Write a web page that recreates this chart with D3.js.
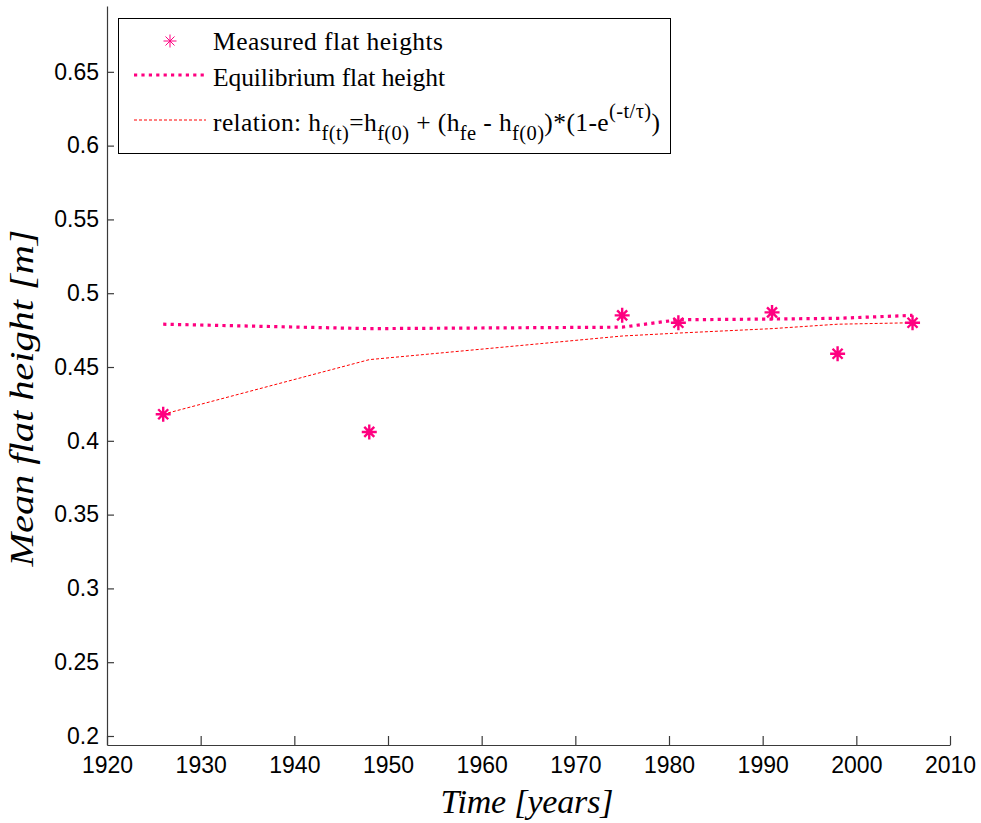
<!DOCTYPE html>
<html>
<head>
<meta charset="utf-8">
<script src="https://cdn.jsdelivr.net/npm/d3@7"></script>
<style>
  html, body { margin: 0; padding: 0; background: #fff; }
  svg { display: block; }
</style>
</head>
<body>
<svg id="chart" width="981" height="823"></svg>
<script>
// ---- data ----
const years = [1926, 1948, 1975, 1981, 1991, 1998, 2006];
const measured = [0.418, 0.406, 0.485, 0.480, 0.487, 0.459, 0.480];
const equilibrium = [0.479, 0.476, 0.477, 0.482, 0.4825, 0.483, 0.485];
const relation = [0.418, 0.455, 0.471, 0.473, 0.476, 0.479, 0.480];
const xTicks = [1920, 1930, 1940, 1950, 1960, 1970, 1980, 1990, 2000, 2010];
const yTicks = [0.2, 0.25, 0.3, 0.35, 0.4, 0.45, 0.5, 0.55, 0.6, 0.65];
const legendLabels = ["Measured flat heights", "Equilibrium flat height"];

const pink = "#ff0080";
const red = "#ff0000";
const serif = "'Liberation Serif','Times New Roman',Times,serif";
const sans = "'Liberation Sans',Arial,Helvetica,sans-serif";

const svg = d3.select("#chart");
const x = d3.scaleLinear().domain([1920, 2010]).range([107, 950]);
const y = d3.scaleLinear().domain([0.1939, 0.6946]).range([745, 6]);

// axes
const gx = svg.append("g").attr("transform", "translate(0,745)")
  .call(d3.axisBottom(x).tickValues(xTicks).tickFormat(d3.format("d"))
    .tickSizeInner(-9).tickSizeOuter(0).tickPadding(11.5));
const gy = svg.append("g").attr("transform", "translate(107,0)")
  .call(d3.axisLeft(y).tickValues(yTicks).tickFormat(d => String(+d.toFixed(2)))
    .tickSizeInner(-7).tickSizeOuter(0).tickPadding(8));
[gx, gy].forEach(g => {
  g.select(".domain").attr("stroke", "#3a3a3a").attr("stroke-width", 1.2);
  g.selectAll(".tick line").attr("stroke", "#3a3a3a").attr("stroke-width", 1.2);
  g.selectAll(".tick text").attr("font-family", sans).attr("font-size", 23).attr("fill", "#000");
});

// lines
const line = d3.line().x((d, i) => x(years[i])).y(d => y(d));
svg.append("path").datum(equilibrium).attr("d", line)
  .attr("fill", "none").attr("stroke", pink).attr("stroke-width", 3.2)
  .attr("stroke-dasharray", "3.2,4.2");
svg.append("path").datum(relation).attr("d", line)
  .attr("fill", "none").attr("stroke", red).attr("stroke-width", 1)
  .attr("stroke-dasharray", "3,2");

// star markers
function starPath(s, d) {
  return `M${-s},0H${s}M0,${-s}V${s}M${-d},${-d}L${d},${d}M${-d},${d}L${d},${-d}`;
}
svg.append("g").selectAll("path").data(measured).join("path")
  .attr("transform", (d, i) => `translate(${x(years[i])},${y(d)})`)
  .attr("d", starPath(7.5, 5))
  .attr("fill", "none").attr("stroke", pink).attr("stroke-width", 2.4);

// axis labels
svg.append("text").attr("x", 527).attr("y", 813).attr("text-anchor", "middle")
  .attr("font-family", serif).attr("font-style", "italic").attr("font-size", 34)
  .attr("textLength", 173).attr("lengthAdjust", "spacing")
  .text("Time [years]");
svg.append("text").attr("transform", "translate(33,398) rotate(-90)").attr("text-anchor", "middle")
  .attr("font-family", serif).attr("font-style", "italic").attr("font-size", 34)
  .attr("textLength", 337).attr("lengthAdjust", "spacingAndGlyphs")
  .text("Mean flat height [m]");

// legend
const lg = svg.append("g");
lg.append("rect").attr("x", 118.5).attr("y", 18.5).attr("width", 552).attr("height", 135)
  .attr("fill", "#fff").attr("stroke", "#000").attr("stroke-width", 1);
lg.append("path").attr("transform", "translate(170,41)").attr("d", starPath(6.5, 4.5))
  .attr("fill", "none").attr("stroke", pink).attr("stroke-width", 1);
lg.append("line").attr("x1", 134).attr("x2", 204).attr("y1", 75).attr("y2", 75)
  .attr("stroke", pink).attr("stroke-width", 3.2).attr("stroke-dasharray", "3.2,4.2");
lg.append("line").attr("x1", 134).attr("x2", 206).attr("y1", 120).attr("y2", 120)
  .attr("stroke", red).attr("stroke-width", 1).attr("stroke-dasharray", "3,2");
lg.append("text").attr("x", 213).attr("y", 50).attr("font-family", serif).attr("font-size", 25.5)
  .attr("textLength", 230).attr("lengthAdjust", "spacing")
  .text(legendLabels[0]);
lg.append("text").attr("x", 213).attr("y", 86).attr("font-family", serif).attr("font-size", 25.5)
  .attr("textLength", 232).attr("lengthAdjust", "spacing")
  .text(legendLabels[1]);
const t3 = lg.append("text").attr("x", 213).attr("y", 131).attr("font-family", serif).attr("font-size", 25.5)
  .attr("xml:space", "preserve");
const parts = [
  ["relation: h", 0], ["f(t)", 1], ["=h", 0], ["f(0)", 1], [" + (h", 0], ["fe", 1],
  [" - h", 0], ["f(0)", 1], [")*(1-e", 0], ["(-t/\u03C4)", 2], [")", 0]
];
let cur = 0;
parts.forEach(([txt, kind]) => {
  const target = kind === 1 ? 9 : kind === 2 ? -13 : 0;
  t3.append("tspan").attr("dy", target - cur)
    .attr("font-size", kind ? 20.5 : 25.5)
    .style("white-space", "pre")
    .text(txt);
  cur = target;
});
t3.attr("textLength", 447).attr("lengthAdjust", "spacing");
</script>
</body>
</html>
